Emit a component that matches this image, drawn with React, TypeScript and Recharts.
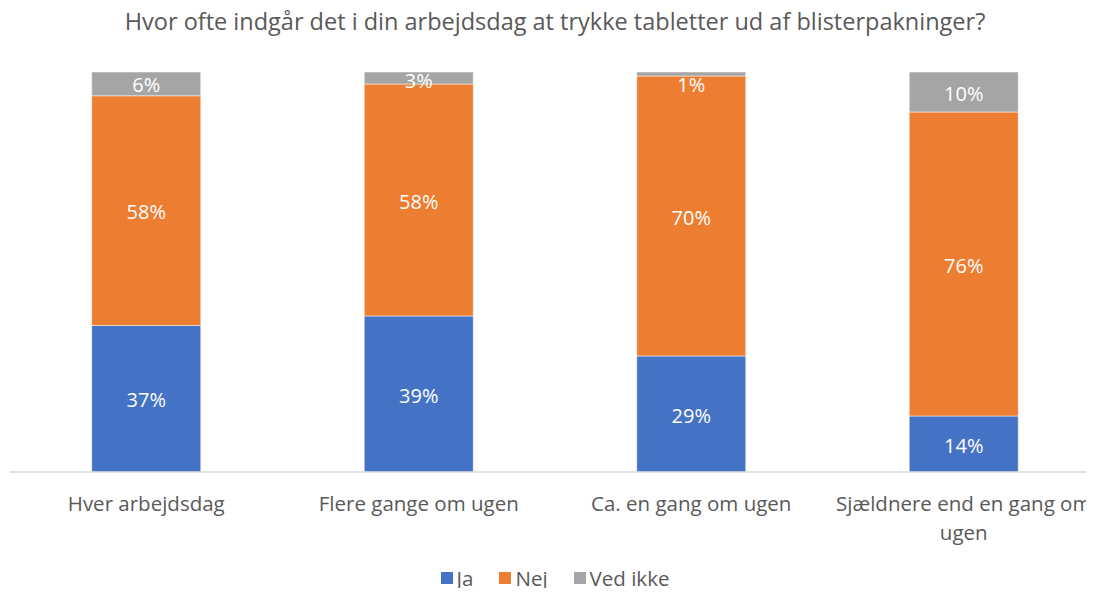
import React from 'react';
import { BarChart, Bar, XAxis, YAxis, Legend, LabelList } from 'recharts';

// Survey answers per frequency group (percent)
const categories = ['Hver arbejdsdag', 'Flere gange om ugen', 'Ca. en gang om ugen', 'Sjældnere end en gang om ugen'];
const ja = [37, 39, 29, 14];
const nej = [58, 58, 70, 76];
const vedIkke = [6, 3, 1, 10];

const seriesNames = ['Ja', 'Nej', 'Ved ikke'];
const seriesColors = ['#4472C4', '#ED7D31', '#A5A5A5'];
const seriesKeys = ['ja', 'nej', 'vedIkke'];

const data = categories.map((name, i) => ({
  name,
  ja: ja[i],
  nej: nej[i],
  vedIkke: vedIkke[i],
}));

const FONT = '"Open Sans", sans-serif';
const TEXT = '#595959';

// crude word wrap by character count (about 26 chars fit under a bar slot)
const wrap = (s: string, max = 26) => {
  const lines: string[] = [];
  let cur = '';
  s.split(' ').forEach((w) => {
    if (cur && (cur + ' ' + w).length > max) {
      lines.push(cur);
      cur = w;
    } else {
      cur = cur ? cur + ' ' + w : w;
    }
  });
  if (cur) lines.push(cur);
  return lines;
};

const CategoryTick = (props: any) => {
  const { x, y, payload } = props;
  const lines = wrap(payload.value);
  return (
    <text x={x} y={y + 31} textAnchor="middle" fill={TEXT} fontSize={20.5} fontFamily={FONT}>
      {lines.map((l, i) => (
        <tspan key={i} x={x} dy={i === 0 ? 0 : 29}>
          {l}
        </tspan>
      ))}
    </text>
  );
};

// white value label; tiny segments get their label pushed into the bar below
const ValueLabel = (props: any) => {
  const { x, y, width, height, value } = props;
  let cy = y + height / 2 + 1;
  if (height < 8) cy = y + 12;
  else if (height < 16) cy = y + 8;
  return (
    <text
      x={x + width / 2}
      y={cy}
      textAnchor="middle"
      dominantBaseline="central"
      fill="#ffffff"
      fontSize={20}
      fontFamily={FONT}
    >
      {`${value}%`}
    </text>
  );
};

const LegendContent = () => (
  <div
    style={{
      display: 'flex',
      justifyContent: 'center',
      gap: 26,
      fontFamily: FONT,
      fontSize: 20.5,
      lineHeight: '24px',
      color: TEXT,
    }}
  >
    {seriesNames.map((n, i) => (
      <span key={n} style={{ display: 'flex', alignItems: 'center' }}>
        <span style={{ width: 12, height: 12, background: seriesColors[i], marginRight: 4, display: 'inline-block' }} />
        {n}
      </span>
    ))}
  </div>
);

export default function App() {
  return (
    <div style={{ position: 'relative', width: 1094, height: 596, overflow: 'hidden', margin: -8, background: '#fff' }}>
      <div
        style={{
          position: 'absolute',
          top: 5,
          left: 0,
          width: 1110,
          textAlign: 'center',
          fontFamily: FONT,
          fontSize: 23.5,
          color: TEXT,
        }}
      >
        Hvor ofte indgår det i din arbejdsdag at trykke tabletter ud af blisterpakninger?
      </div>
      <BarChart
        width={1100}
        height={596}
        data={data}
        stackOffset="expand"
        barCategoryGap="30%"
        margin={{ top: 72, right: 0, left: 10, bottom: 2 }}
      >
        <XAxis
          dataKey="name"
          tick={<CategoryTick />}
          tickLine={false}
          axisLine={{ stroke: '#D9D9D9', strokeWidth: 1.5 }}
          height={98}
          interval={0}
        />
        <YAxis hide domain={[0, 1]} />
        <Legend
          verticalAlign="bottom"
          content={<LegendContent />}
          height={26}
          wrapperStyle={{ top: 566, bottom: 'auto', left: 0, width: 1110, height: 24 }}
        />
        {seriesKeys.map((k, i) => (
          <Bar
            key={k}
            dataKey={k}
            name={seriesNames[i]}
            stackId="a"
            fill={seriesColors[i]}
            stroke="#ffffff"
            strokeWidth={0.5}
            isAnimationActive={false}
          >
            <LabelList dataKey={k} content={<ValueLabel />} />
          </Bar>
        ))}
      </BarChart>
    </div>
  );
}
